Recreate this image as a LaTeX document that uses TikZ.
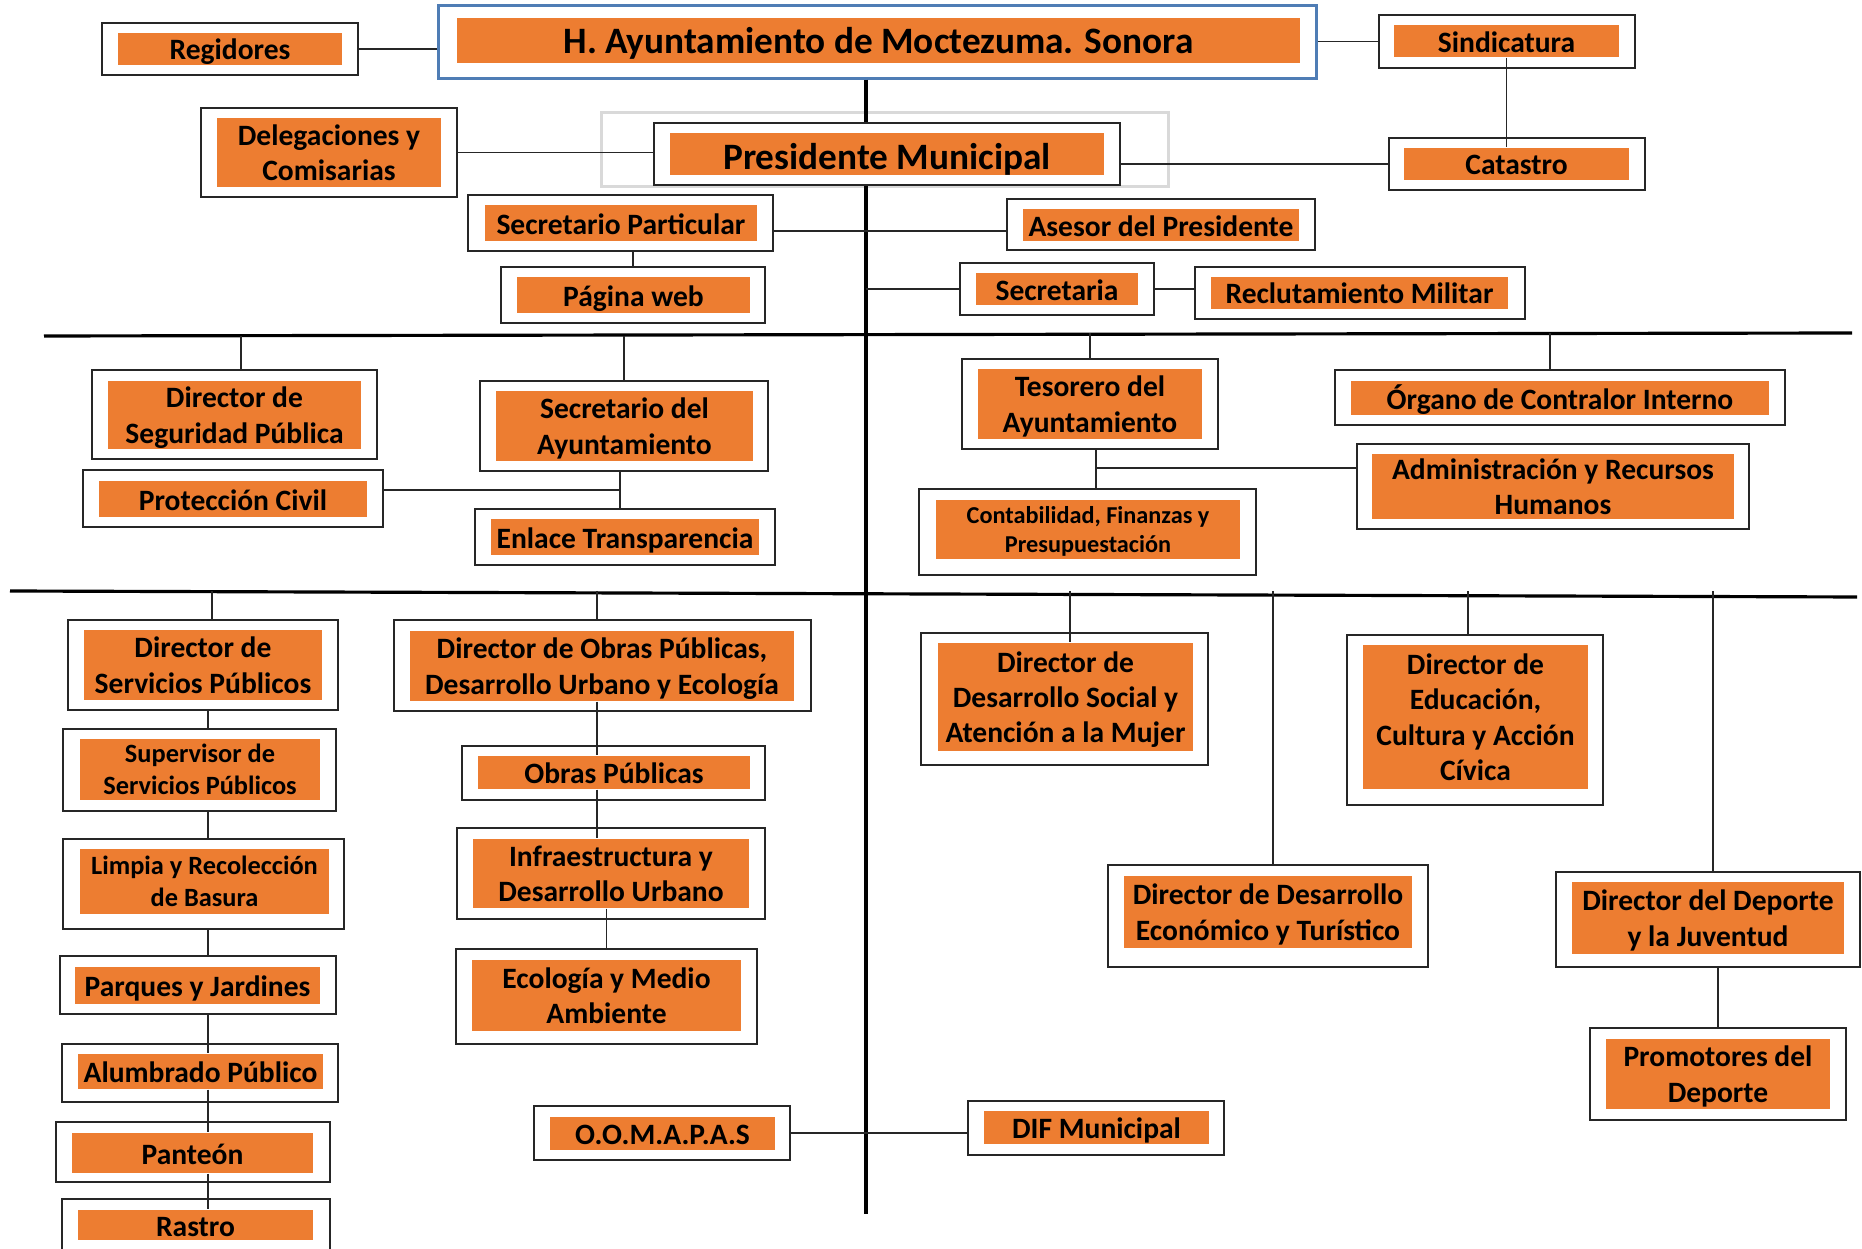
\documentclass[tikz,border=0pt]{standalone}
\usepackage{fontspec}
\setmainfont{Carlito}
\usepackage{tikz}
\definecolor{naranja}{HTML}{ED7D31}
\definecolor{azulmarco}{HTML}{4F7DB5}
\definecolor{grismarco}{HTML}{D9D9D9}

\begin{document}
\begin{tikzpicture}[x=0.01cm, y=-0.01cm,
    tam/.style 2 args={minimum width=#1, minimum height=#2},
    marco/.style={draw=black!85, line width=0.55pt, fill=white, inner sep=0pt},
    caja/.style={fill=naranja, inner sep=0pt, align=center, font=\bfseries\fontsize{8.4}{10.05}\selectfont},
    una/.style={text height=0.25cm, text depth=0.03cm},
    varias/.style={text depth=-0.05cm},
    chica/.style={font=\bfseries\fontsize{7.5}{9.1}\selectfont},
    mini/.style={font=\bfseries\fontsize{6.9}{8.4}\selectfont},
    titulo/.style={font=\bfseries\fontsize{10.6}{12.8}\selectfont, text height=0.29cm, text depth=0.03cm},
    linea/.style={draw=black!85, line width=0.5pt},
    eje/.style={draw=black, line width=0.9pt}]
	\useasboundingbox (0,0) rectangle (1862,1249);
	\clip (0,0) rectangle (1862,1249);

	% cabeza
	\node[draw=grismarco, line width=0.85pt, tam={5.66cm}{0.73cm}] (presG) at (885,149.5) {};
	\node[marco, tam={2.56cm}{0.52cm}] (regM) at (230,49) {};
	\node[caja, una, tam={2.24cm}{0.32cm}] (reg) at (230,49) {Regidores};
	\node[marco, draw=azulmarco, line width=0.85pt, tam={8.77cm}{0.72cm}] (ayuM) at (877.5,42) {};
	\node[caja, titulo, tam={8.43cm}{0.45cm}] (ayu) at (878.5,40.5) {H. Ayuntamiento de Moctezuma. Sonora};
	\node[marco, tam={2.56cm}{0.53cm}] (sinM) at (1507,41.5) {};
	\node[caja, una, tam={2.25cm}{0.32cm}] (sin) at (1506.5,41) {Sindicatura};
	\node[marco, tam={4.66cm}{0.62cm}] (presM) at (887,154) {};
	\node[caja, titulo, text height=0.34cm, tam={4.34cm}{0.42cm}] (pres) at (887,154) {Presidente Municipal};
	\node[marco, tam={2.56cm}{0.89cm}] (delM) at (329,152.5) {};
	\node[caja, varias, tam={2.24cm}{0.69cm}] (del) at (329,152.5) {Delegaciones y\\Comisarias};
	\node[marco, tam={2.56cm}{0.52cm}] (catM) at (1517,164) {};
	\node[caja, una, tam={2.25cm}{0.32cm}] (cat) at (1516.5,164) {Catastro};
	\node[marco, tam={3.05cm}{0.56cm}] (secM) at (620.5,223) {};
	\node[caja, una, tam={2.72cm}{0.36cm}] (sec) at (621,223) {Secretario Particular};
	\node[marco, tam={3.08cm}{0.51cm}] (aseM) at (1161,224.5) {};
	\node[caja, una, tam={2.76cm}{0.32cm}] (ase) at (1161,225) {Asesor del Presidente};
	\node[marco, tam={2.64cm}{0.56cm}] (pagM) at (633,295) {};
	\node[caja, una, tam={2.33cm}{0.36cm}] (pag) at (633.5,295) {Página web};
	\node[marco, tam={1.94cm}{0.52cm}] (sriM) at (1057,289) {};
	\node[caja, una, tam={1.62cm}{0.32cm}] (sri) at (1057,289) {Secretaria};
	\node[marco, tam={3.30cm}{0.52cm}] (recM) at (1360,293) {};
	\node[caja, una, tam={2.97cm}{0.32cm}] (rec) at (1359.5,293) {Reclutamiento Militar};

	% segundo nivel
	\node[marco, tam={2.85cm}{0.89cm}] (segM) at (234.5,414.5) {};
	\node[caja, varias, tam={2.53cm}{0.68cm}] (seg) at (234.5,415) {Director de\\Seguridad Pública};
	\node[marco, tam={2.88cm}{0.90cm}] (sayM) at (624,426) {};
	\node[caja, varias, tam={2.57cm}{0.70cm}] (say) at (624.5,426) {Secretario del\\Ayuntamiento};
	\node[marco, tam={3.00cm}{0.57cm}] (proM) at (233,498.5) {};
	\node[caja, una, tam={2.68cm}{0.36cm}] (pro) at (233,499) {Protección Civil};
	\node[marco, tam={3.00cm}{0.56cm}] (enlM) at (625,537) {};
	\node[caja, una, tam={2.68cm}{0.36cm}] (enl) at (625,537) {Enlace Transparencia};
	\node[marco, tam={2.56cm}{0.90cm}] (tesM) at (1090,404) {};
	\node[caja, varias, tam={2.24cm}{0.70cm}] (tes) at (1090,404) {Tesorero del\\Ayuntamiento};
	\node[marco, tam={3.37cm}{0.86cm}] (conM) at (1087.5,532) {};
	\node[caja, mini, varias, tam={3.04cm}{0.59cm}] (con) at (1088,529.5) {Contabilidad, Finanzas y\\Presupuestación};
	\node[marco, tam={4.50cm}{0.55cm}] (orgM) at (1560,397.5) {};
	\node[caja, una, tam={4.18cm}{0.34cm}] (org) at (1560,398) {Órgano de Contralor Interno};
	\node[marco, tam={3.92cm}{0.85cm}] (admM) at (1553,486.5) {};
	\node[caja, varias, tam={3.62cm}{0.65cm}] (adm) at (1553,486.5) {Administración y Recursos\\Humanos};

	% tercer nivel
	\node[marco, tam={2.70cm}{0.90cm}] (serM) at (203,665) {};
	\node[caja, varias, tam={2.38cm}{0.70cm}] (ser) at (203,665) {Director de\\Servicios Públicos};
	\node[marco, tam={2.73cm}{0.82cm}] (supM) at (199.5,770) {};
	\node[caja, chica, varias, tam={2.40cm}{0.61cm}] (sup) at (200,769.5) {Supervisor de\\Servicios Públicos};
	\node[marco, tam={2.81cm}{0.90cm}] (limM) at (203.5,884) {};
	\node[caja, chica, varias, tam={2.49cm}{0.65cm}] (lim) at (204.5,881.5) {Limpia y Recolección\\de Basura};
	\node[marco, tam={2.76cm}{0.58cm}] (parM) at (198,985) {};
	\node[caja, una, tam={2.45cm}{0.37cm}] (par) at (197.5,985.5) {Parques y Jardines};
	\node[marco, tam={2.76cm}{0.58cm}] (aluM) at (200,1073) {};
	\node[caja, una, tam={2.45cm}{0.35cm}] (alu) at (200.5,1071.5) {Alumbrado Público};
	\node[marco, tam={2.74cm}{0.60cm}] (panM) at (193,1152) {};
	\node[caja, una, tam={2.41cm}{0.40cm}] (pan) at (192.5,1153) {Panteón};
	\node[marco, tam={2.68cm}{0.71cm}] (rasM) at (196,1234.5) {};
	\node[caja, una, tam={2.35cm}{0.30cm}] (ras) at (195.5,1225) {Rastro};
	\node[marco, tam={4.17cm}{0.91cm}] (obrM) at (602.5,665.5) {};
	\node[caja, varias, tam={3.84cm}{0.70cm}] (obr) at (602,666) {Director de Obras Públicas,\\Desarrollo Urbano y Ecología};
	\node[marco, tam={3.03cm}{0.54cm}] (opuM) at (613.5,773) {};
	\node[caja, una, tam={2.72cm}{0.33cm}] (opu) at (614,772.5) {Obras Públicas};
	\node[marco, tam={3.08cm}{0.91cm}] (infM) at (611,873.5) {};
	\node[caja, varias, tam={2.76cm}{0.69cm}] (inf) at (611,873.5) {Infraestructura y\\Desarrollo Urbano};
	\node[marco, tam={3.01cm}{0.95cm}] (ecoM) at (606.5,996.5) {};
	\node[caja, varias, tam={2.69cm}{0.71cm}] (eco) at (606.5,995.5) {Ecología y Medio\\Ambiente};
	\node[marco, tam={2.56cm}{0.54cm}] (oomM) at (662,1133) {};
	\node[caja, una, tam={2.25cm}{0.33cm}] (oom) at (662.5,1133.5) {O.O.M.A.P.A.S};
	\node[marco, tam={2.87cm}{1.32cm}] (socM) at (1064.5,699) {};
	\node[caja, varias, tam={2.55cm}{1.08cm}] (soc) at (1065.5,697) {Director de\\Desarrollo Social y\\Atención a la Mujer};
	\node[marco, tam={2.56cm}{1.70cm}] (eduM) at (1475,720) {};
	\node[caja, varias, tam={2.25cm}{1.44cm}] (edu) at (1475.5,717) {Director de\\Educación,\\Cultura y Acción\\Cívica};
	\node[marco, tam={3.20cm}{1.02cm}] (ecnM) at (1268,916) {};
	\node[caja, varias, tam={2.88cm}{0.72cm}] (ecn) at (1268,912) {Director de Desarrollo\\Económico y Turístico};
	\node[marco, tam={3.04cm}{0.95cm}] (depM) at (1708,919.5) {};
	\node[caja, varias, tam={2.72cm}{0.72cm}] (dep) at (1708,918) {Director del Deporte\\y la Juventud};
	\node[marco, tam={2.56cm}{0.92cm}] (proDM) at (1718,1074) {};
	\node[caja, varias, tam={2.24cm}{0.70cm}] (proD) at (1718,1074) {Promotores del\\Deporte};
	\node[marco, tam={2.56cm}{0.54cm}] (difM) at (1096,1128) {};
	\node[caja, una, tam={2.25cm}{0.33cm}] (dif) at (1096.5,1127.5) {DIF Municipal};

	% lineas guia
	\coordinate (eje) at (866,1214);
	\coordinate (l1a) at (44,336);
	\coordinate (l1b) at (1852,333);
	\coordinate (l2a) at (10,591);
	\coordinate (l2b) at (1857,597);
	\coordinate (filSP) at (0,231);
	\coordinate (filPC) at (0,490);
	\coordinate (filAd) at (0,468);
	\coordinate (colSeg) at (241,0);
	\coordinate (colSA) at (620,0);
	\coordinate (colTes) at (1096,0);
	\coordinate (colOrg) at (1550,0);
	\coordinate (colSer) at (212,0);
	\coordinate (colS) at (208,0);
	\coordinate (colObr) at (597,0);
	\coordinate (colSoc) at (1070,0);
	\coordinate (colEcn) at (1273,0);
	\coordinate (colEdu) at (1468,0);
	\coordinate (colDep) at (1713,0);

	\draw[eje] (ayuM.south -| eje) -- (presM.north -| eje);
	\draw[eje] (presM.south -| eje) -- (eje);
	\draw[eje] (l1a) -- (l1b);
	\draw[eje] (l2a) -- (l2b);

	\draw[linea] (regM.east) -- (regM.east -| ayuM.west);
	\draw[linea] (ayuM.east |- sinM.west) -- (sinM.west);
	\draw[linea] (sin.south) -- (sin.south |- cat.north);
	\draw[linea] (delM.east) -- (delM.east -| presM.west);
	\draw[linea] (catM.west -| presM.east) -- (catM.west);
	\draw[linea] (secM.east |- filSP) -- (aseM.west |- filSP);
	\draw[linea] (pagM.north |- secM.south) -- (pagM.north);
	\draw[linea] (eje |- sriM.west) -- (sriM.west);
	\draw[linea] (sriM.east) -- (sriM.east -| recM.west);

	\draw[linea] (colSeg |- l1a) -- (colSeg |- segM.north);
	\draw[linea] (sayM.north |- l1a) -- (sayM.north);
	\draw[linea] (colSA |- sayM.south) -- (colSA |- enlM.north);
	\draw[linea] (proM.east |- filPC) -- (colSA |- filPC);
	\draw[linea] (tesM.north |- l1b) -- (tesM.north);
	\draw[linea] (colTes |- tesM.south) -- (colTes |- conM.north);
	\draw[linea] (colTes |- filAd) -- (admM.west |- filAd);
	\draw[linea] (colOrg |- l1b) -- (colOrg |- orgM.north);

	\draw[linea] (colSer |- l2a) -- (colSer |- serM.north);
	\draw[linea] (serM.south -| colS) -- (supM.north -| colS);
	\draw[linea] (supM.south -| colS) -- (limM.north -| colS);
	\draw[linea] (limM.south -| colS) -- (parM.north -| colS);
	\draw[linea] (parM.south -| colS) -- (alu.north -| colS);
	\draw[linea] (alu.south -| colS) -- (pan.north -| colS);
	\draw[linea] (pan.south -| colS) -- (ras.north -| colS);
	\draw[linea] (colObr |- l2a) -- (colObr |- obrM.north);
	\draw[linea] (obr.south -| colObr) -- (opu.north -| colObr);
	\draw[linea] (opu.south -| colObr) -- (inf.north -| colObr);
	\draw[linea] (inf.south -| ecoM.north) -- (ecoM.north);
	\draw[linea] (oomM.east) -- (oomM.east -| difM.west);
	\draw[linea] (colSoc |- l2a) -- (colSoc |- soc.north);
	\draw[linea] (colEcn |- l2a) -- (colEcn |- ecnM.north);
	\draw[linea] (colEdu |- l2a) -- (colEdu |- eduM.north);
	\draw[linea] (colDep |- l2a) -- (colDep |- depM.north);
	\draw[linea] (proDM.north |- depM.south) -- (proDM.north);
\end{tikzpicture}
\end{document}
